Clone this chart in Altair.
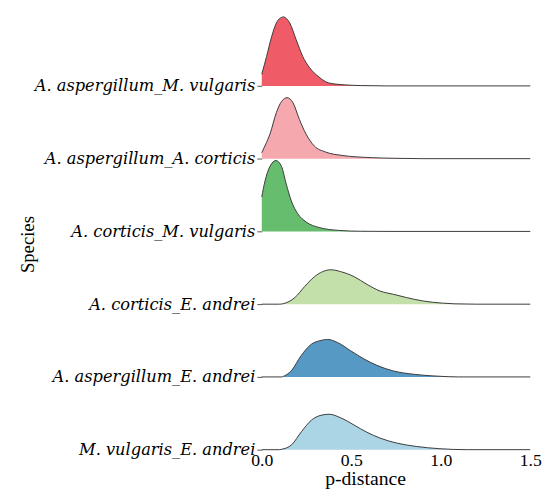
import altair as alt
import pandas as pd

# Species pairs, top to bottom
species = [
    "A. aspergillum_M. vulgaris",
    "A. aspergillum_A. corticis",
    "A. corticis_M. vulgaris",
    "A. corticis_E. andrei",
    "A. aspergillum_E. andrei",
    "M. vulgaris_E. andrei",
]
colors = ["#EF5B67", "#F5A9AE", "#67BD6E", "#C3DFAA", "#5699C5", "#ABD4E4"]

# p-distance density curves
x1 = [0.0, 0.027, 0.055, 0.082, 0.10, 0.123, 0.14, 0.156, 0.192, 0.229, 0.265, 0.32, 0.375, 0.467, 0.55, 0.7]
d1 = [0.69, 1.73, 2.89, 3.70, 3.96, 4.05, 3.93, 3.70, 2.72, 1.73, 1.10, 0.52, 0.17, 0.06, 0.02, 0.0]

x2 = [0.0, 0.02, 0.046, 0.082, 0.11, 0.141, 0.174, 0.21, 0.247, 0.293, 0.357, 0.449, 0.614, 0.75, 0.9]
d2 = [0.35, 0.80, 1.45, 2.72, 3.35, 3.58, 3.29, 2.31, 1.45, 0.75, 0.39, 0.19, 0.06, 0.02, 0.0]

x3 = [0.0, 0.018, 0.046, 0.079, 0.110, 0.137, 0.165, 0.201, 0.247, 0.32, 0.43, 0.55, 0.7]
d3 = [2.02, 2.95, 3.82, 4.16, 3.82, 2.77, 1.79, 1.04, 0.56, 0.23, 0.06, 0.01, 0.0]

x4 = [0.0, 0.1, 0.12, 0.185, 0.24, 0.295, 0.34, 0.386, 0.441, 0.515, 0.588, 0.661, 0.735, 0.808, 0.9, 1.01, 1.08, 1.2]
d4 = [0.0, 0.0, 0.03, 0.39, 1.04, 1.62, 1.91, 2.02, 1.91, 1.62, 1.16, 0.77, 0.58, 0.39, 0.19, 0.06, 0.02, 0.0]

x5 = [0.0, 0.11, 0.12, 0.167, 0.22, 0.277, 0.322, 0.368, 0.423, 0.496, 0.57, 0.643, 0.735, 0.845, 0.99, 1.1]
d5 = [0.0, 0.0, 0.03, 0.39, 1.25, 1.92, 2.12, 2.20, 2.02, 1.54, 1.06, 0.68, 0.35, 0.16, 0.04, 0.0]

x6 = [0.0, 0.1, 0.11, 0.167, 0.222, 0.277, 0.331, 0.377, 0.441, 0.515, 0.588, 0.661, 0.753, 0.863, 0.99, 1.15]
d6 = [0.0, 0.0, 0.02, 0.29, 1.06, 1.73, 2.02, 2.08, 1.87, 1.45, 1.02, 0.68, 0.39, 0.19, 0.06, 0.0]

x_ticks = [0.0, 0.5, 1.0, 1.5]

xs = [x1, x2, x3, x4, x5, x6]
ds = [d1, d2, d3, d4, d5, d6]
spacing = 4.27
n = len(species)

rows = []
for i, (name, xv, dv) in enumerate(zip(species, xs, ds)):
    base = (n - 1 - i) * spacing
    pts = list(zip(xv, dv))
    if xv[-1] < 1.5:
        pts.append((1.5, 0.0))
    for x, d in pts:
        rows.append({"species": name, "x": x, "base": base, "top": base + d})
df = pd.DataFrame(rows)

baselines = [(n - 1 - i) * spacing for i in range(n)]
names_bottom_up = list(reversed(species))
label_expr = "[" + ",".join("'" + s + "'" for s in names_bottom_up) + "][round(datum.value / %s)]" % spacing

FONT = "Liberation Serif, serif"
IFONT = "DejaVu Serif"

x_enc = alt.X(
    "x:Q",
    scale=alt.Scale(domain=[0, 1.5], nice=False),
    axis=alt.Axis(
        values=x_ticks, format=".1f", title="p-distance", grid=False, domain=False,
        ticks=False, labelFont=FONT, labelFontSize=18, labelColor="black",
        labelPadding=2, titleFont=FONT, titleFontSize=20, titleFontWeight="normal",
        titleColor="black", titlePadding=-1, titleX=105, labelFlush=False,
    ),
)
y_enc = alt.Y(
    "top:Q",
    scale=alt.Scale(domain=[0, 25.4], nice=False, zero=True),
    axis=alt.Axis(
        values=baselines, labelExpr=label_expr, title="Species", grid=False,
        domain=False, ticks=True, tickSize=5, tickColor="#555555",
        labelFont=IFONT, labelFontSize=16.5, labelFontStyle="italic", labelColor="black",
        labelPadding=2, labelLimit=400, titleFont=FONT, titleFontSize=19,
        titleFontWeight="normal", titleColor="black", titleX=-228, titleY=231,
    ),
)

layers = []
for name, col in zip(species, colors):
    base_chart = alt.Chart(df).transform_filter(alt.datum.species == name)
    area = base_chart.mark_area(color=col, opacity=1, interpolate="monotone").encode(
        x=x_enc, y=y_enc, y2="base:Q"
    )
    line = base_chart.mark_line(color="#3a3a3a", strokeWidth=1, interpolate="monotone").encode(
        x=x_enc, y=y_enc
    )
    layers += [area, line]

chart = (
    alt.layer(*layers)
    .properties(width=273, height=440, padding={"left": 10, "top": 3, "right": 5, "bottom": 2})
    .configure_view(stroke=None)
)

chart.save("out.html", embed_options={"renderer": "svg", "actions": False})
